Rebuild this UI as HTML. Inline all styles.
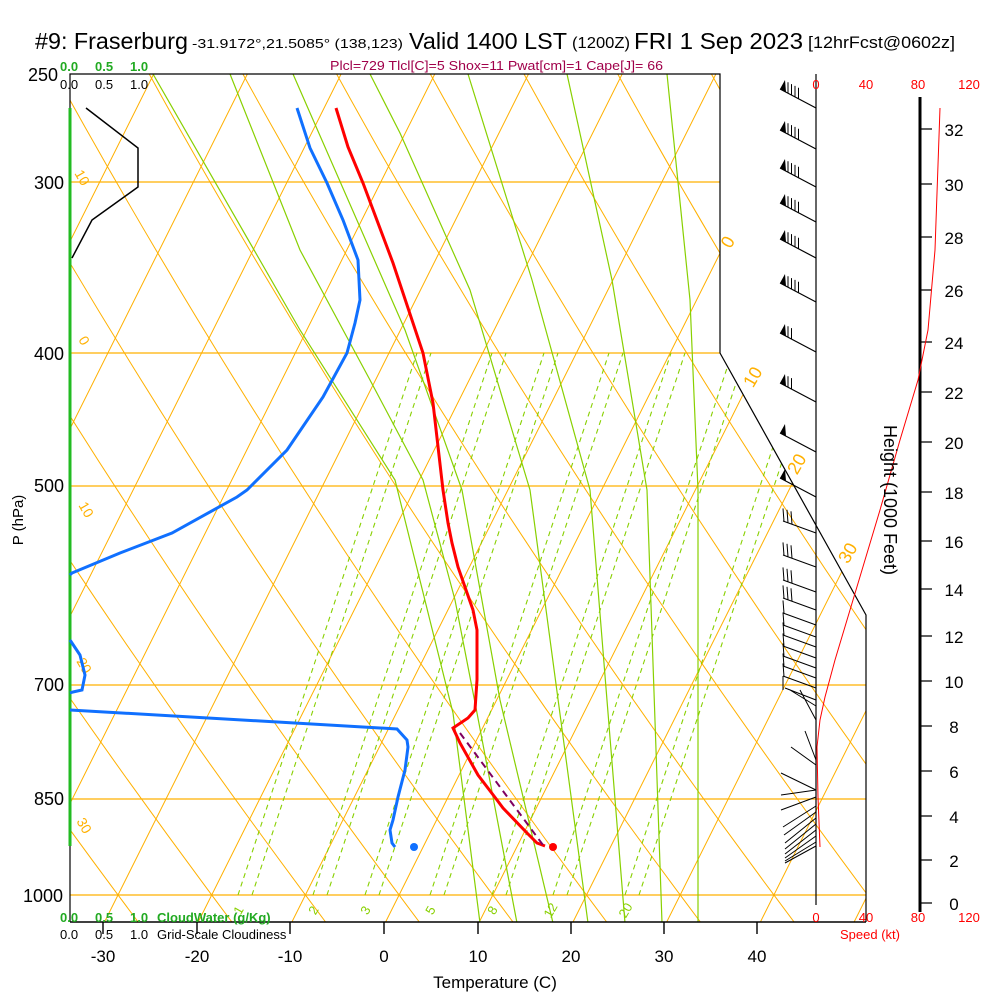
<!DOCTYPE html>
<html><head><meta charset="utf-8"><style>
html,body{margin:0;padding:0;background:#fff;}
svg{display:block;font-family:"Liberation Sans",sans-serif;}
</style></head><body>
<svg width="1000" height="1000" viewBox="0 0 1000 1000" xmlns="http://www.w3.org/2000/svg" xmlns:xlink="http://www.w3.org/1999/xlink">
<defs>
<clipPath id="cp"><polygon points="70,74 720,74 720,353 866,615 866,922 70,922"/></clipPath>
<g id="bu4"><path d="M816 0 L780 -19" stroke="#000" stroke-width="1.2" fill="none"/><path d="M780 -19 L786 -16 L785 -28Z" fill="#000"/><path d="M788 -14.8v-11 M791.5 -12.9v-11 M795 -11.1v-11 M798.5 -9.2v-11" stroke="#000" stroke-width="1" fill="none"/></g>
<g id="bu2"><path d="M816 0 L780 -19" stroke="#000" stroke-width="1.2" fill="none"/><path d="M780 -19 L786 -16 L785 -28Z" fill="#000"/><path d="M788 -14.8v-11 M791.5 -12.9v-11" stroke="#000" stroke-width="1" fill="none"/></g>
<g id="bu0"><path d="M816 0 L780 -19" stroke="#000" stroke-width="1.2" fill="none"/><path d="M780 -19 L786 -16 L785 -28Z" fill="#000"/></g>
<g id="bm3"><path d="M816 0 L783 -12 M784 -11.6 l-1 -13 M788 -10.2 l-1 -13 M792 -8.7 l-1 -13" stroke="#000" stroke-width="1" fill="none"/></g>
<g id="bm1"><path d="M816 0 L783 -12 M784 -11.6 l-1 -13" stroke="#000" stroke-width="1" fill="none"/></g>
</defs>
<rect width="1000" height="1000" fill="#fff"/>
<g clip-path="url(#cp)" fill="none">
<!-- isotherms -->
<g stroke="#ffb000" stroke-width="1">
<path d="M-309.3 1000L190.7 0M-215.6 1000L284.4 0M-121.9 1000L378.1 0M-28.2 1000L471.8 0M65.5 1000L565.5 0M159.2 1000L659.2 0M252.9 1000L752.9 0M346.6 1000L846.6 0M440.3 1000L940.3 0M534 1000L1034 0M627.7 1000L1127.7 0M721.4 1000L1221.4 0M815.1 1000L1315.1 0"/>
<!-- dry adiabats -->
<path d="M-413 74Q-179.8 498 138.2 922M-319.3 74Q-86.1 498 231.9 922M-225.6 74Q7.6 498 325.6 922M-131.9 74Q101.3 498 419.3 922M-38.2 74Q195 498 513 922M55.5 74Q288.7 498 606.7 922M149.2 74Q382.4 498 700.4 922M242.9 74Q476.1 498 794.1 922M336.6 74Q569.8 498 887.8 922M430.3 74Q663.5 498 981.5 922M524 74Q757.2 498 1075.2 922M617.7 74Q850.9 498 1168.9 922M711.4 74Q944.6 498 1262.6 922M805.1 74Q1038.3 498 1356.3 922"/>
</g>
<g stroke="#ffb000" stroke-width="1.3">
<path d="M70 182H720M70 353H720M70 486H866M70 685H866M70 799H866M70 895H866"/>
</g>
<!-- moist adiabats -->
<g stroke="#88d000" stroke-width="1.2">
<polyline points="698,923 698,490 690,300 667,74"/>
<polyline points="662,923 647,490 612,280 567,74"/>
<polyline points="625,923 590,490 532,280 468,74"/>
<polyline points="588,923 530,490 470,290 400,133 370,74"/>
<polyline points="553,923 500,700 462,490 405,330 293,74"/>
<polyline points="517,923 477,713 455,600 423,480 370,380 300,250 230,74"/>
<polyline points="480,923 453,713 395,480 300,330 153,74"/>
</g>
<!-- mixing ratio -->
<g stroke="#88d000" stroke-width="1.1" stroke-dasharray="5,4">
<path d="M238 895L417 353M252 895L431 353M313 895L492 353M327 895L506 353M365 895L544 353M379 895L558 353M430 895L609 353M444 895L623 353M492 895L671 353M506 895L685 353M553 895L732 353M567 895L746 353M625 895L804 353M639 895L818 353"/>
</g>
</g>
<g font-size="13" fill="#88d000" text-anchor="middle">
<text x="238" y="915" transform="rotate(-60 238 910)">1</text>
<text x="313" y="915" transform="rotate(-60 313 910)">2</text>
<text x="365" y="915" transform="rotate(-60 365 910)">3</text>
<text x="430" y="915" transform="rotate(-60 430 910)">5</text>
<text x="492" y="915" transform="rotate(-60 492 910)">8</text>
<text x="550" y="915" transform="rotate(-60 550 910)">12</text>
<text x="625" y="915" transform="rotate(-60 625 910)">20</text>
</g>
<g font-size="14" fill="#ffb000" text-anchor="middle">
<text x="78" y="180" transform="rotate(60 78 180)">10</text>
<text x="80" y="343" transform="rotate(60 80 343)">0</text>
<text x="82" y="512" transform="rotate(60 82 512)">10</text>
<text x="80" y="668" transform="rotate(60 80 668)">20</text>
<text x="80" y="828" transform="rotate(60 80 828)">30</text>
</g>
<g font-size="18" fill="#ffb000" text-anchor="middle">
<text x="733" y="245" transform="rotate(-60 733 245)">0</text>
<text x="758" y="380" transform="rotate(-60 758 380)">10</text>
<text x="802" y="467" transform="rotate(-60 802 467)">20</text>
<text x="853" y="556" transform="rotate(-60 853 556)">30</text>
</g>
<!-- frame -->
<polyline points="70,922 70,74 720,74 720,353 866,615 866,922" fill="none" stroke="#000" stroke-width="1.2"/>
<path d="M70 922H866M103 922v12M197 922v12M290 922v12M384 922v12M478 922v12M571 922v12M664 922v12M757 922v12" stroke="#000" stroke-width="1.4" fill="none"/>
<line x1="70" y1="108" x2="70" y2="846" stroke="#22bb22" stroke-width="3"/>
<line x1="816" y1="74" x2="816" y2="905" stroke="#000" stroke-width="1.2"/>
<!-- height axis -->
<line x1="920" y1="97" x2="920" y2="912" stroke="#000" stroke-width="3"/>
<path d="M920 903h12M920 860h12M920 816h12M920 771h12M920 726h12M920 681h12M920 636h12M920 589h12M920 541h12M920 492h12M920 442h12M920 392h12M920 342h12M920 290h12M920 237h12M920 184h12M920 129h12" stroke="#000" stroke-width="1.3"/>
<g font-size="17" text-anchor="middle">
<text x="954" y="910">0</text><text x="954" y="867">2</text><text x="954" y="823">4</text><text x="954" y="778">6</text><text x="954" y="733">8</text><text x="954" y="688">10</text><text x="954" y="643">12</text><text x="954" y="596">14</text><text x="954" y="548">16</text><text x="954" y="499">18</text><text x="954" y="449">20</text><text x="954" y="399">22</text><text x="954" y="349">24</text><text x="954" y="297">26</text><text x="954" y="244">28</text><text x="954" y="191">30</text><text x="954" y="136">32</text>
</g>
<!-- cloudiness -->
<polyline points="86,108 138,148 138,187 92,220 72,258" fill="none" stroke="#000" stroke-width="1.5"/>
<!-- dewpoint -->
<g fill="none" stroke="#1070ff" stroke-width="3">
<polyline points="297,108 310,148 327,183 343,220 358,260 360,300 355,323 347,353 323,397 287,450 247,490 237,497 172,533 120,553 72,573 70,575"/>
<polyline points="70,640 80,655 85,675 82,690 73,692 70,693"/>
<polyline points="70,710 380,728 397,729 407,740 408,747 405,770 398,797 393,820 390,830 392,843 395,847"/>
</g>
<circle cx="414" cy="847" r="4" fill="#1070ff"/>
<!-- temperature -->
<polyline points="336,108 348,147 363,183 393,263 423,353 433,403 443,490 448,523 452,543 458,567 473,610 477,630 477,680 475,710 468,718 453,728 460,743 478,775 497,800 503,808 527,833 537,843 545,846" fill="none" stroke="#ff0000" stroke-width="3"/>
<line x1="460" y1="733" x2="543" y2="845" stroke="#800060" stroke-width="2" stroke-dasharray="7,5"/>
<circle cx="553" cy="847" r="4" fill="#ff0000"/>
<!-- speed -->
<polyline points="820,847 818,797 817,747 820,720 825,697 835,660 850,610 865,560 880,510 900,440 918,380 928,330 935,250 940,108" fill="none" stroke="#ff0000" stroke-width="1"/>
<!-- barbs -->
<use xlink:href="#bu4" href="#bu4" transform="translate(0,108)"/>
<use xlink:href="#bu4" href="#bu4" transform="translate(0,149)"/>
<use xlink:href="#bu4" href="#bu4" transform="translate(0,187)"/>
<use xlink:href="#bu4" href="#bu4" transform="translate(0,222)"/>
<use xlink:href="#bu4" href="#bu4" transform="translate(0,258)"/>
<use xlink:href="#bu4" href="#bu4" transform="translate(0,302)"/>
<use xlink:href="#bu2" href="#bu2" transform="translate(0,352)"/>
<use xlink:href="#bu2" href="#bu2" transform="translate(0,402)"/>
<use xlink:href="#bu0" href="#bu0" transform="translate(0,452)"/>
<use xlink:href="#bu0" href="#bu0" transform="translate(0,497)"/>
<use xlink:href="#bm3" href="#bm3" transform="translate(0,533)"/>
<use xlink:href="#bm3" href="#bm3" transform="translate(0,567)"/>
<use xlink:href="#bm3" href="#bm3" transform="translate(0,592)"/>
<use xlink:href="#bm3" href="#bm3" transform="translate(0,610)"/>
<use xlink:href="#bm1" href="#bm1" transform="translate(0,625)"/>
<use xlink:href="#bm1" href="#bm1" transform="translate(0,637)"/>
<use xlink:href="#bm1" href="#bm1" transform="translate(0,647)"/>
<use xlink:href="#bm1" href="#bm1" transform="translate(0,658)"/>
<use xlink:href="#bm1" href="#bm1" transform="translate(0,668)"/>
<use xlink:href="#bm1" href="#bm1" transform="translate(0,678)"/>
<use xlink:href="#bm1" href="#bm1" transform="translate(0,688)"/>
<path d="M783 676V690M816 700L785 688M816 706L790 690M816 720L800 690M816 760L805 731M816 765L791 747M816 790L781 773M816 790L781 795M816 797L781 810M816 806L783 827M816 812L784 835M816 818L785 843M816 824L785 849M816 830L785 854M816 836L785 858M816 842L785 861M816 846L785 863" stroke="#000" stroke-width="1" fill="none"/>
<!-- titles -->
<text x="35" y="49" font-size="23" textLength="153" lengthAdjust="spacingAndGlyphs">#9: Fraserburg</text>
<text x="192" y="48" font-size="13" textLength="211" lengthAdjust="spacingAndGlyphs">-31.9172°,21.5085° (138,123)</text>
<text x="409" y="49" font-size="23" textLength="158" lengthAdjust="spacingAndGlyphs">Valid 1400 LST</text>
<text x="572" y="48" font-size="16" textLength="58" lengthAdjust="spacingAndGlyphs">(1200Z)</text>
<text x="634" y="49" font-size="23" textLength="169" lengthAdjust="spacingAndGlyphs">FRI 1 Sep 2023</text>
<text x="808" y="48" font-size="17" textLength="147" lengthAdjust="spacingAndGlyphs">[12hrFcst@0602z]</text>
<text x="330" y="70" font-size="13" fill="#a0004a" textLength="333" lengthAdjust="spacingAndGlyphs">Plcl=729 Tlcl[C]=5 Shox=11 Pwat[cm]=1 Cape[J]= 66</text>
<g font-size="13" font-weight="bold" fill="#22aa22">
<text x="60" y="71">0.0</text><text x="95" y="71">0.5</text><text x="130" y="71">1.0</text>
<text x="60" y="922">0.0</text><text x="95" y="922">0.5</text><text x="130" y="922">1.0</text>
<text x="157" y="922">CloudWater (g/Kg)</text>
</g>
<g font-size="13" fill="#000">
<text x="60" y="89">0.0</text><text x="95" y="89">0.5</text><text x="130" y="89">1.0</text>
<text x="60" y="939">0.0</text><text x="95" y="939">0.5</text><text x="130" y="939">1.0</text>
<text x="157" y="939">Grid-Scale Cloudiness</text>
</g>
<g font-size="18" text-anchor="end">
<text x="58" y="81">250</text><text x="64" y="189">300</text><text x="64" y="360">400</text>
<text x="64" y="492">500</text><text x="64" y="691">700</text><text x="64" y="805">850</text><text x="63" y="902">1000</text>
</g>
<text transform="translate(23,520) rotate(-90)" font-size="15" text-anchor="middle">P (hPa)</text>
<g font-size="17" text-anchor="middle">
<text x="103" y="962">-30</text><text x="197" y="962">-20</text><text x="290" y="962">-10</text>
<text x="384" y="962">0</text><text x="478" y="962">10</text><text x="571" y="962">20</text>
<text x="664" y="962">30</text><text x="757" y="962">40</text>
<text x="495" y="988">Temperature (C)</text>
</g>
<g font-size="13" fill="#ff0000" text-anchor="middle">
<text x="816" y="89">0</text><text x="866" y="89">40</text><text x="918" y="89">80</text><text x="969" y="89">120</text>
<text x="816" y="922">0</text><text x="866" y="922">40</text><text x="918" y="922">80</text><text x="969" y="922">120</text>
<text x="870" y="939">Speed (kt)</text>
</g>
<text transform="translate(884,500) rotate(90)" font-size="18" text-anchor="middle">Height (1000 Feet)</text>
</svg>
</body></html>
